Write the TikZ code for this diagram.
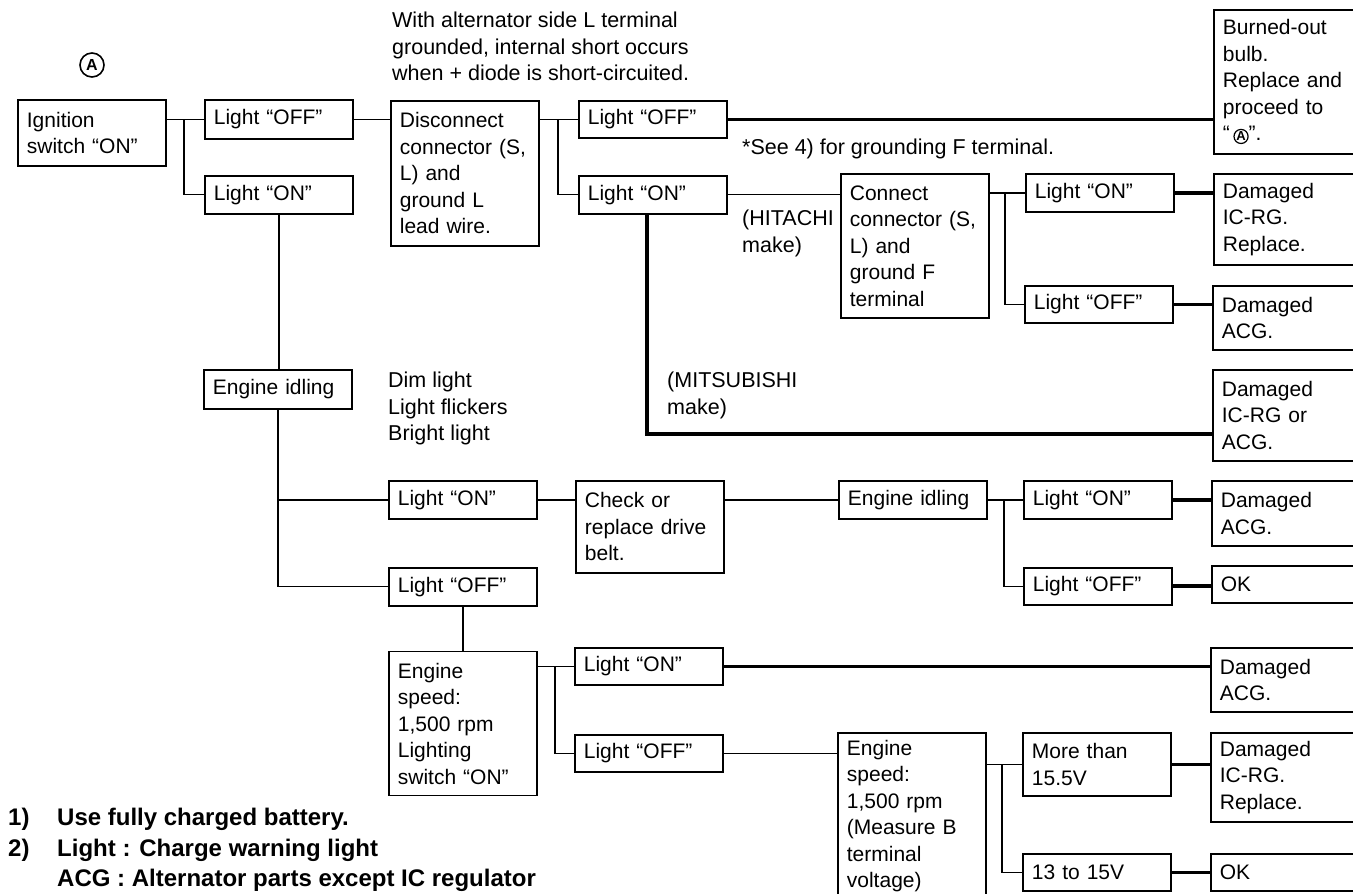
\documentclass[tikz,border=0pt]{standalone}
\usepackage{fontspec}
\setmainfont{Liberation Sans}
\usepackage{tikz}
\usetikzlibrary{positioning}

\newcommand{\ringA}{\tikz[baseline=(ringA.base)]\node[draw, circle, line width=1.2pt, minimum size=0pt, inner sep=0.4pt, anchor=center, text width=, align=center, font=\fontsize{13}{13}\selectfont\bfseries] (ringA) {A};}

\begin{document}
\begin{tikzpicture}[
    x=1pt, y=-1pt,
    box/.style={draw, rectangle, line width=1.8pt, anchor=north west, inner xsep=9pt, inner ysep=0pt, text width=130pt, align=left, font=\fontsize{21}{26.5}\selectfont},
    note/.style={anchor=north west, inner sep=0pt, align=left, font=\fontsize{21.5}{26.5}\selectfont},
    footnote/.style={note, font=\fontsize{24}{30.5}\selectfont\bfseries},
    line/.style={draw, line width=1.3pt},
    heavy/.style={draw, line width=3.8pt}
]
    \useasboundingbox (0,0) rectangle (1353,894);
    \clip (0,0) rectangle (1353,894);

    % Nodes
    \node[circle, draw, line width=1.6pt, minimum size=24pt, inner sep=0pt, font=\fontsize{16}{16}\selectfont\bfseries] (markA) at (92,65) {A};
    \node[box, minimum height=66pt] (ign) at (17,99) {Ignition\\switch ``ON''};
    \node[box, minimum height=39pt] (offA) at (204,99) {Light ``OFF''};
    \node[box, minimum height=38pt, below=35pt of offA] (onA) {Light ``ON''};
    \node[box, minimum height=145pt] (disc) at (390,100) {Disconnect\\connector (S,\\L) and\\ground L\\lead wire.};
    \node[box, minimum height=37pt] (offB) at (578,100) {Light ``OFF''};
    \node[box, minimum height=38pt, below=36pt of offB] (onB) {Light ``ON''};
    \node[box, minimum height=144pt] (burn) at (1213,9) {Burned-out\\bulb.\\Replace and\\proceed to\\``\,\ringA''.};
    \node[box, minimum height=144pt] (conn) at (840,173) {Connect\\connector (S,\\L) and\\ground F\\terminal};
    \node[box, minimum height=38pt] (onC) at (1025,173) {Light ``ON''};
    \node[box, minimum height=37pt] (offC) at (1024,285) {Light ``OFF''};
    \node[box, minimum height=91pt] (icrgA) at (1213,173) {Damaged\\IC-RG.\\Replace.};
    \node[box, minimum height=64pt] (acgA) at (1212,285) {Damaged\\ACG.};
    \node[box, minimum height=91pt] (icacg) at (1212,369) {Damaged\\IC-RG or\\ACG.};
    \node[box, minimum height=39pt] (idleA) at (203,369) {Engine idling};
    \node[box, minimum height=38pt] (onD) at (388,480) {Light ``ON''};
    \node[box, minimum height=38pt, below=47pt of onD] (offD) {Light ``OFF''};
    \node[box, minimum height=92pt] (check) at (575,480) {Check or\\replace drive\\belt.};
    \node[box, minimum height=38pt] (idleB) at (838,480) {Engine idling};
    \node[box, minimum height=38pt] (onE) at (1023,480) {Light ``ON''};
    \node[box, minimum height=37pt, below=47pt of onE] (offE) {Light ``OFF''};
    \node[box, minimum height=65pt] (acgB) at (1211,480) {Damaged\\ACG.};
    \node[box, minimum height=37pt] (okA) at (1211,565) {OK};
    \node[box, minimum height=144pt, below=44pt of offD] (speedA) {Engine\\speed:\\1,500 rpm\\Lighting\\switch ``ON''};
    \node[box, minimum height=37pt] (onF) at (574,647) {Light ``ON''};
    \node[box, minimum height=37pt, below=48pt of onF] (offF) {Light ``OFF''};
    \node[box, minimum height=64pt] (acgC) at (1210,647) {Damaged\\ACG.};
    \node[box, minimum height=166pt] (speedB) at (837,732) {Engine\\speed:\\1,500 rpm\\(Measure B\\terminal\\voltage)};
    \node[box, minimum height=63pt] (more) at (1022,732) {More than\\15.5V};
    \node[box, minimum height=37pt] (volt) at (1022,853) {13 to 15V};
    \node[box, minimum height=89pt] (icrgB) at (1210,732) {Damaged\\IC-RG.\\Replace.};
    \node[box, minimum height=37pt] (okB) at (1210,853) {OK};

    % Remarks
    \node[note] (warn) at (392,12) {With alternator side L terminal\\grounded, internal short occurs\\when + diode is short-circuited.};
    \node[note] (seeF) at (742,139) {*See 4) for grounding F terminal.};
    \node[note] (hitachi) at (742,210) {(HITACHI\\make)};
    \node[note] (mitsu) at (667,372) {(MITSUBISHI\\make)};
    \node[note] (dim) at (388,372) {Dim light\\Light flickers\\Bright light};
    \node[footnote] (nums) at (8,808) {1)\\2)};
    \node[footnote] (notes) at (57,808) {Use fully charged battery.\\Light : Charge warning light\\ACG : Alternator parts except IC regulator};

    % Branch points
    \coordinate (jA) at (184,0);
    \coordinate (jB) at (558,0);
    \coordinate (jC) at (1005,0);
    \coordinate (jE) at (1004,0);
    \coordinate (jF) at (555,0);
    \coordinate (jG) at (1002,0);
    \coordinate (mk) at (647,434);

    % Connections
    \draw[line] (ign.east |- offA.west) -- (offA.west);
    \draw[line] (offA.west -| jA) |- (onA.west);
    \draw[line] (onA.south) -- (onA.south |- idleA.north);
    \draw[line] (idleA.south) |- (offD.west);
    \draw[line] (idleA.south |- onD.west) -- (onD.west);
    \draw[line] (offA.east) -- (offA.east -| disc.west);
    \draw[line] (disc.east |- offB.west) -- (offB.west);
    \draw[line] (offB.west -| jB) |- (onB.west);
    \draw[heavy] (offB.east) -- (offB.east -| burn.west);
    \draw[line] (onB.east) -- (onB.east -| conn.west);
    \draw[heavy] (onB.south -| mk) -- (mk) -- (mk -| icacg.west);
    \draw[line] (conn.east |- onC.west) -- (onC.west);
    \draw[line] (onC.west -| jC) |- (offC.west);
    \draw[heavy] (onC.east) -- (onC.east -| icrgA.west);
    \draw[heavy] (offC.east) -- (offC.east -| acgA.west);
    \draw[line] (onD.east) -- (onD.east -| check.west);
    \draw[line] (check.east |- idleB.west) -- (idleB.west);
    \draw[line] (idleB.east) -- (onE.west);
    \draw[line] (onE.west -| jE) |- (offE.west);
    \draw[heavy] (onE.east) -- (onE.east -| acgB.west);
    \draw[heavy] (offE.east) -- (offE.east -| okA.west);
    \draw[line] (offD.south) -- (offD.south |- speedA.north);
    \draw[line] (speedA.east |- onF.west) -- (onF.west);
    \draw[line] (onF.west -| jF) |- (offF.west);
    \draw[heavy] (onF.east) -- (onF.east -| acgC.west);
    \draw[line] (offF.east) -- (offF.east -| speedB.west);
    \draw[line] (speedB.east |- more.west) -- (more.west);
    \draw[line] (more.west -| jG) |- (volt.west);
    \draw[heavy] (more.east) -- (more.east -| icrgB.west);
    \draw[heavy] (volt.east) -- (volt.east -| okB.west);
\end{tikzpicture}
\end{document}
